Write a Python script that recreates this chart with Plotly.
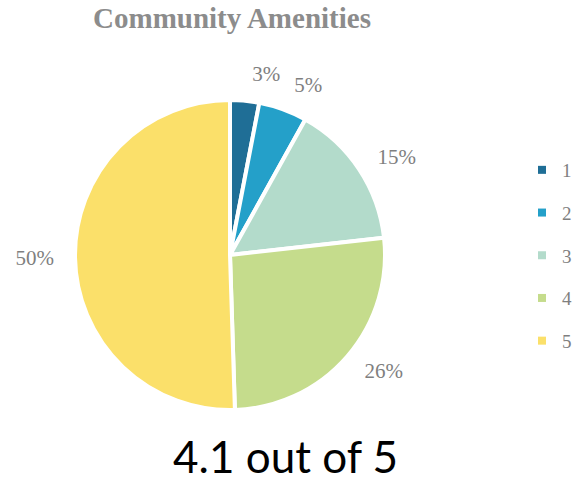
import plotly.graph_objects as go

ratings = ["1", "2", "3", "4", "5"]
shares = [3, 5, 15, 26, 50]
colors = ["#1f6e96", "#24a0c9", "#b3dbcb", "#c5dc8c", "#fbe06a"]
title_text = "Community Amenities"
score_text = "4.1 out of 5"

W, H = 577, 483
cx, cy, r = 230, 255, 155
r_lab = 170


def dom(rad):
    return dict(x=[(cx - rad) / W, (cx + rad) / W], y=[(H - cy - rad) / H, (H - cy + rad) / H])


fig = go.Figure()
fig.add_trace(go.Pie(
    labels=ratings, values=shares, sort=False, direction="clockwise", rotation=0,
    marker=dict(colors=colors, line=dict(color="white", width=4)),
    textinfo="none", showlegend=False, hoverinfo="label+value",
    domain=dom(r),
))
# transparent pies, slightly larger, carrying the percentage labels outside
# (the smallest slice's label on its own trace so it is not pushed aside)
label_sets = [
    ["outside", "none", "none", "none", "none"],
    ["none", "outside", "outside", "outside", "outside"],
]
for positions in label_sets:
    fig.add_trace(go.Pie(
        labels=ratings, values=shares, sort=False, direction="clockwise", rotation=0,
        marker=dict(colors=["rgba(0,0,0,0)"] * len(ratings), line=dict(width=0)),
        texttemplate="%{value}%", textposition=positions,
        outsidetextfont=dict(family="Liberation Serif", size=21, color="#7f7f7f"),
        showlegend=False, hoverinfo="skip",
        domain=dom(r_lab),
    ))
for lab, col in zip(ratings, colors):
    fig.add_trace(go.Scatter(x=[None], y=[None], mode="markers", name=lab, legendgroup=lab,
                             marker=dict(symbol="square", size=8, color=col)))

fig.update_layout(
    width=W, height=H, margin=dict(l=0, r=0, t=0, b=0),
    paper_bgcolor="white", plot_bgcolor="white",
    xaxis=dict(visible=False), yaxis=dict(visible=False),
    title=dict(text=title_text, x=232 / W, xanchor="center", y=1 - 18 / H, yanchor="middle",
               font=dict(family="Liberation Serif", size=29, color="#8c8c8c", weight="bold")),
    legend=dict(x=522 / W, xanchor="left", y=1 - 151 / H, yanchor="top", tracegroupgap=15,
                itemwidth=30, font=dict(family="Liberation Serif", size=19, color="#7f7f7f")),
    annotations=[dict(text=score_text, xref="paper", yref="paper", x=285 / W, y=0,
                      xanchor="center", yanchor="bottom", showarrow=False, borderpad=0,
                      font=dict(family="Lato", size=44, color="#000000"))],
)
fig.write_html("out.html")
